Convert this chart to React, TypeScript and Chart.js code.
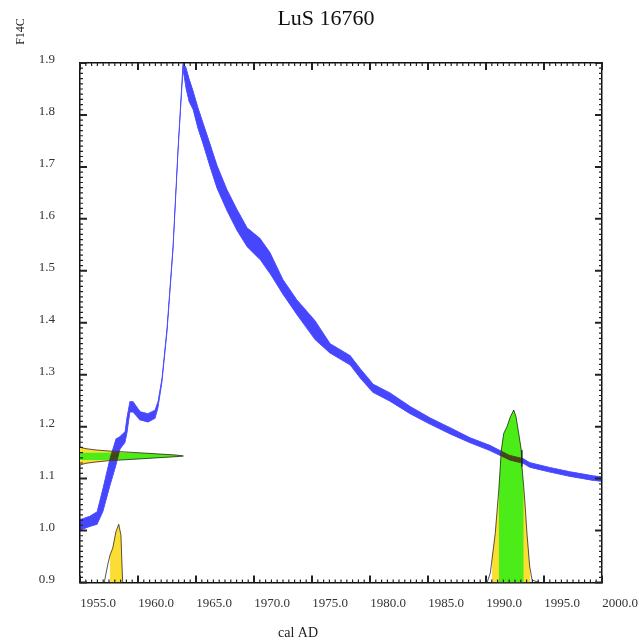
import React, { useEffect, useRef } from 'react';
import { Chart, registerables } from 'chart.js';

// ---- axes ----
const xMin = 1955;
const xMax = 2000;
const yMin = 0.9;
const yMax = 1.9;
const xTickValues = [1955, 1960, 1965, 1970, 1975, 1980, 1985, 1990, 1995, 2000];
const xTickLabels = ['1955.0', '1960.0', '1965.0', '1970.0', '1975.0', '1980.0', '1985.0', '1990.0', '1995.0', '2000.0'];
const yTickValues = [0.9, 1.0, 1.1, 1.2, 1.3, 1.4, 1.5, 1.6, 1.7, 1.8, 1.9];
const yTickLabels = ['0.9', '1.0', '1.1', '1.2', '1.3', '1.4', '1.5', '1.6', '1.7', '1.8', '1.9'];
const xMinorStep = 0.5;
const yMinorStep = 0.01;

// ---- calibration curve (bomb curve), mean and half-width in F14C ----
const calYears = [1955.0, 1955.86, 1956.47, 1956.98, 1957.59, 1958.1, 1958.45, 1958.88, 1959.05, 1959.3, 1959.57, 1960.17, 1960.86, 1961.47, 1961.72, 1962.07, 1962.5, 1963.02, 1963.45, 1963.88, 1964.14, 1964.4, 1964.74, 1965.17, 1965.6, 1966.2, 1966.81, 1967.67, 1968.53, 1969.4, 1970.52, 1971.38, 1972.5, 1973.7, 1975.26, 1976.55, 1978.28, 1979.14, 1980.26, 1981.72, 1983.45, 1985.17, 1986.9, 1988.6, 1990.34, 1992.07, 1993.19, 1993.8, 1995.5, 1997.2, 1999.2, 2000.0];
const calMean = [1.011, 1.018, 1.024, 1.059, 1.113, 1.151, 1.169, 1.18, 1.203, 1.238, 1.238, 1.221, 1.217, 1.224, 1.242, 1.29, 1.386, 1.544, 1.732, 1.894, 1.871, 1.848, 1.829, 1.794, 1.765, 1.723, 1.681, 1.636, 1.598, 1.565, 1.542, 1.515, 1.469, 1.43, 1.386, 1.351, 1.328, 1.303, 1.274, 1.257, 1.232, 1.211, 1.192, 1.174, 1.159, 1.14, 1.134, 1.126, 1.117, 1.109, 1.101, 1.099];
const calHalfWidth = [0.01, 0.01, 0.012, 0.022, 0.026, 0.025, 0.012, 0.01, 0.015, 0.01, 0.01, 0.008, 0.008, 0.008, 0.006, 0.004, 0.004, 0.004, 0.004, 0.006, 0.02, 0.022, 0.018, 0.02, 0.02, 0.022, 0.022, 0.02, 0.02, 0.018, 0.02, 0.02, 0.014, 0.014, 0.018, 0.009, 0.009, 0.009, 0.008, 0.008, 0.007, 0.006, 0.006, 0.005, 0.005, 0.0045, 0.0045, 0.0045, 0.0045, 0.0045, 0.0045, 0.0045];

// ---- measured F14C distribution (drawn along the y axis) ----
const measX = [1955.0, 1955.52, 1956.38, 1957.5, 1958.97, 1960.41, 1961.81, 1963.28, 1963.91];
const measUpper = [1.1603, 1.1576, 1.1551, 1.1531, 1.1512, 1.1493, 1.1474, 1.1454, 1.1435];
const measLower = [1.1262, 1.1295, 1.132, 1.1345, 1.1364, 1.1383, 1.1402, 1.1422, 1.1435];
const measGreenUpper = [1.1499, 1.1499, 1.1499, 1.1499, 1.1499, 1.1493, 1.1474, 1.1454, 1.1435];
const measGreenLower = [1.1358, 1.1358, 1.1358, 1.1358, 1.1364, 1.1383, 1.1402, 1.1422, 1.1435];

// ---- calibrated distribution, early solution ----
const leftYears = [1957.09, 1957.39, 1957.59, 1957.82, 1958.1, 1958.34, 1958.53, 1958.62, 1958.68];
const leftDensity = [0.9, 0.934, 0.953, 0.966, 0.998, 1.012, 0.991, 0.934, 0.9];
const leftYellowRange = [1957.59, 1958.68];

// ---- calibrated distribution, late solution ----
const rightYears = [1990.09, 1990.37, 1990.52, 1990.8, 1991.03, 1991.09, 1991.23, 1991.32, 1991.53, 1991.81, 1992.1, 1992.39, 1992.59, 1992.82, 1993.04, 1993.1, 1993.25, 1993.34, 1993.53, 1993.77, 1993.82, 1993.97, 1994.3, 1994.66];
const rightDensity = [0.9, 0.918, 0.945, 0.995, 1.059, 1.075, 1.123, 1.155, 1.187, 1.2, 1.219, 1.232, 1.219, 1.187, 1.155, 1.123, 1.085, 1.059, 0.995, 0.93, 0.925, 0.905, 0.902, 0.9];
const rightYellowRange = [1990.52, 1993.82];
const rightGreenRange = [1991.09, 1993.25];

const SERIF = "'Liberation Serif', 'Times New Roman', serif";
const BLUE = 'rgb(70,70,255)';
const YELLOW = 'rgb(252,222,50)';
const GREEN = 'rgb(76,236,24)';
const OUTLINE = 'rgba(20,20,20,0.9)';
const TICK = '#222';

const pts = (xs: number[], ys: number[]) => xs.map((x, i) => ({ x, y: ys[i] }));
const inRange = (xs: number[], ys: number[], r: number[]) =>
  pts(xs, ys).filter((p) => p.x >= r[0] - 1e-9 && p.x <= r[1] + 1e-9);

// blending for the curve band (registered before the filler so it wraps the fill too)
const blendPlugin = {
  id: 'blendMode',
  beforeDatasetDraw(chart: any, args: any) {
    const ds = chart.data.datasets[args.index];
    if (ds && ds.blend) {
      chart.ctx.save();
      chart.ctx.globalCompositeOperation = ds.blend;
    }
  },
  afterDatasetDraw(chart: any, args: any) {
    const ds = chart.data.datasets[args.index];
    if (ds && ds.blend) chart.ctx.restore();
  },
};

Chart.register(blendPlugin as any);
Chart.register(...registerables);

const frameTicks = {
  id: 'frameTicks',
  afterDraw(chart: any) {
    const { ctx, chartArea: a, scales } = chart;
    const xs = scales.x;
    const ys = scales.y;
    ctx.save();
    ctx.strokeStyle = TICK;
    const nx = Math.round((xMax - xMin) / xMinorStep);
    for (let k = 0; k <= nx; k++) {
      const major = k % 10 === 0;
      const px = xs.getPixelForValue(xMin + k * xMinorStep);
      const len = major ? 7 : 3;
      ctx.lineWidth = major ? 2 : 1.2;
      ctx.beginPath();
      ctx.moveTo(px, a.bottom);
      ctx.lineTo(px, a.bottom - len);
      ctx.moveTo(px, a.top);
      ctx.lineTo(px, a.top + len);
      ctx.stroke();
    }
    const ny = Math.round((yMax - yMin) / yMinorStep);
    for (let k = 0; k <= ny; k++) {
      const major = k % 10 === 0;
      const py = ys.getPixelForValue(yMin + k * yMinorStep);
      const len = major ? 7 : 3;
      ctx.lineWidth = major ? 2 : 1.2;
      ctx.beginPath();
      ctx.moveTo(a.left, py);
      ctx.lineTo(a.left + len, py);
      ctx.moveTo(a.right, py);
      ctx.lineTo(a.right - len, py);
      ctx.stroke();
    }
    ctx.restore();
  },
};

const axisTitles = {
  id: 'axisTitles',
  afterDraw(chart: any) {
    const { ctx } = chart;
    ctx.save();
    ctx.fillStyle = '#222';
    ctx.textAlign = 'center';
    ctx.textBaseline = 'middle';
    ctx.font = `14px ${SERIF}`;
    ctx.fillText('cal AD', 298, 633);
    ctx.translate(21, 31.5);
    ctx.rotate(-Math.PI / 2);
    ctx.font = `12px ${SERIF}`;
    ctx.fillText('F14C', 0, 0);
    ctx.restore();
  },
};

export default function App() {
  const ref = useRef<HTMLCanvasElement>(null);

  useEffect(() => {
    const canvas = ref.current;
    if (!canvas) return;
    const base = { pointRadius: 0, pointHoverRadius: 0, tension: 0, fill: false, borderWidth: 0 };
    const calUpper = calYears.map((x, i) => ({ x, y: calMean[i] + calHalfWidth[i] }));
    const calLower = calYears.map((x, i) => ({ x, y: calMean[i] - calHalfWidth[i] }));

    const datasets: any[] = [
      { ...base, label: 'curve upper', data: calUpper, fill: '+1', backgroundColor: BLUE, borderColor: BLUE, borderWidth: 0.8, blend: 'darken', order: -1 },
      { ...base, label: 'curve lower', data: calLower, borderColor: BLUE, borderWidth: 0.8, blend: 'darken', order: -1 },
      { ...base, label: 'meas 95', data: pts(measX, measUpper), fill: '+1', backgroundColor: YELLOW, order: 2 },
      { ...base, label: 'meas 95 low', data: pts(measX, measLower), order: 2 },
      { ...base, label: 'meas 68', data: pts(measX, measGreenUpper), fill: '+1', backgroundColor: GREEN, order: 1 },
      { ...base, label: 'meas 68 low', data: pts(measX, measGreenLower), order: 1 },
      { ...base, label: 'meas outline up', data: pts(measX, measUpper), borderColor: OUTLINE, borderWidth: 0.8, order: 0 },
      { ...base, label: 'meas outline low', data: pts(measX, measLower), borderColor: OUTLINE, borderWidth: 0.8, order: 0 },
      { ...base, label: 'early 95', data: inRange(leftYears, leftDensity, leftYellowRange), fill: { value: yMin }, backgroundColor: YELLOW, order: 2 },
      { ...base, label: 'early outline', data: pts(leftYears, leftDensity), borderColor: OUTLINE, borderWidth: 0.8, order: 0 },
      { ...base, label: 'late 95', data: inRange(rightYears, rightDensity, rightYellowRange), fill: { value: yMin }, backgroundColor: YELLOW, order: 2 },
      { ...base, label: 'late 68', data: inRange(rightYears, rightDensity, rightGreenRange), fill: { value: yMin }, backgroundColor: GREEN, order: 1 },
      { ...base, label: 'late outline', data: pts(rightYears, rightDensity), borderColor: OUTLINE, borderWidth: 0.8, order: 0 },
    ];

    const tickFont = { family: SERIF, size: 13 };
    const chart = new Chart(canvas, {
      type: 'line',
      data: { datasets },
      options: {
        responsive: false,
        animation: false,
        devicePixelRatio: 1,
        events: [],
        layout: { padding: { left: 13, right: 0, top: 0, bottom: 0 } },
        plugins: {
          legend: { display: false },
          tooltip: { enabled: false },
          title: {
            display: true,
            text: 'LuS 16760',
            color: '#111',
            font: { family: SERIF, size: 22, weight: 'normal' },
            padding: { top: 6.3, bottom: 30.3 },
          },
        },
        scales: {
          x: {
            type: 'linear',
            position: 'bottom',
            min: xMin,
            max: xMax,
            afterBuildTicks: (s: any) => {
              s.ticks = xTickValues.map((v) => ({ value: v }));
            },
            ticks: {
              autoSkip: false,
              maxRotation: 0,
              callback: (_v: any, i: number) => xTickLabels[i],
              labelOffset: 18,
              padding: 13.5,
              font: tickFont,
              color: '#333',
            },
            grid: { display: false, drawTicks: false },
            border: { display: true, color: '#111', width: 1.5 },
            afterFit: (s: any) => {
              s.height = 61.5;
            },
          },
          x2: {
            type: 'linear',
            position: 'top',
            min: xMin,
            max: xMax,
            ticks: { display: false },
            grid: { display: false, drawTicks: false },
            border: { display: true, color: '#111', width: 1.5 },
            afterFit: (s: any) => {
              s.height = 0;
            },
          },
          y: {
            type: 'linear',
            position: 'left',
            min: yMin,
            max: yMax,
            afterBuildTicks: (s: any) => {
              s.ticks = yTickValues.map((v) => ({ value: v }));
            },
            ticks: {
              autoSkip: false,
              callback: (_v: any, i: number) => yTickLabels[i],
              labelOffset: -3,
              padding: 25,
              font: tickFont,
              color: '#333',
            },
            grid: { display: false, drawTicks: false },
            border: { display: true, color: '#111', width: 1.5 },
            afterFit: (s: any) => {
              s.width = 67;
            },
          },
          y2: {
            type: 'linear',
            position: 'right',
            min: yMin,
            max: yMax,
            ticks: { display: false },
            grid: { display: false, drawTicks: false },
            border: { display: true, color: '#111', width: 1.5 },
            afterFit: (s: any) => {
              s.width = 37;
            },
          },
        },
      } as any,
      plugins: [frameTicks, axisTitles],
    });
    return () => chart.destroy();
  }, []);

  return (
    <div style={{ position: 'fixed', left: 0, top: 0, width: 639, height: 644, background: '#fff' }}>
      <canvas ref={ref} width={639} height={644} style={{ display: 'block' }} />
    </div>
  );
}
